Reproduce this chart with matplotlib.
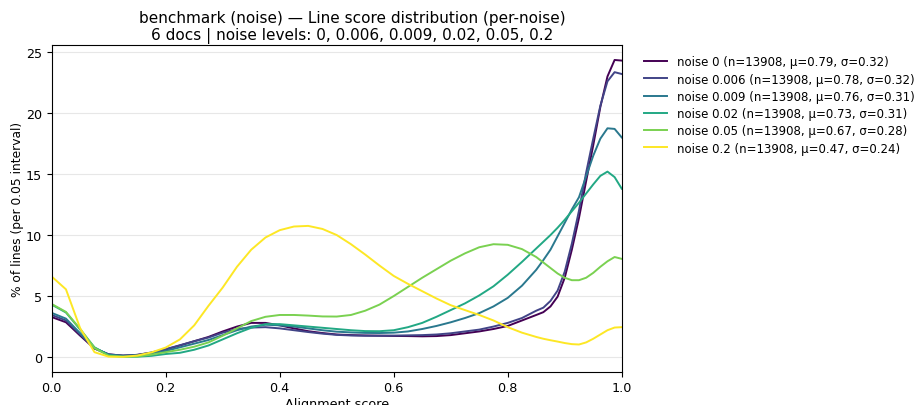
import numpy as np
import matplotlib
matplotlib.use("Agg")
import matplotlib.pyplot as plt

# alignment score grid (finer near 1.0 where the curves are steep)
scores = [0.0, 0.025, 0.05, 0.075, 0.1, 0.125, 0.15, 0.175, 0.2, 0.225,
          0.25, 0.275, 0.3, 0.325, 0.35, 0.375, 0.4, 0.425, 0.45, 0.475,
          0.5, 0.525, 0.55, 0.575, 0.6, 0.625, 0.65, 0.675, 0.7, 0.725,
          0.75, 0.775, 0.8, 0.825, 0.85, 0.8625, 0.875, 0.8875, 0.9, 0.9125,
          0.925, 0.9375, 0.95, 0.9625, 0.975, 0.9875, 1.0]

noise_0 = [3.28, 2.85, 1.75, 0.7, 0.22, 0.12, 0.18, 0.35, 0.62, 0.95,
           1.3, 1.65, 2.1, 2.5, 2.8, 2.8, 2.6, 2.35, 2.12, 1.97,
           1.85, 1.8, 1.77, 1.75, 1.73, 1.72, 1.7, 1.72, 1.8, 1.95,
           2.1, 2.3, 2.55, 3.0, 3.45, 3.68, 4.15, 4.95, 6.5, 8.8,
           11.4, 14.4, 17.35, 20.5, 23.0, 24.35, 24.3]
noise_0006 = [3.45, 3.0, 1.85, 0.72, 0.22, 0.12, 0.18, 0.38, 0.65, 0.97,
              1.3, 1.6, 2.0, 2.3, 2.42, 2.45, 2.35, 2.2, 2.05, 1.92,
              1.82, 1.77, 1.75, 1.75, 1.76, 1.78, 1.8, 1.85, 1.95, 2.1,
              2.25, 2.5, 2.8, 3.2, 3.8, 4.05, 4.6, 5.45, 7.0, 9.3,
              12.0, 15.1, 17.9, 20.6, 22.6, 23.35, 23.2]
noise_0009 = [3.62, 3.15, 1.95, 0.75, 0.2, 0.1, 0.15, 0.3, 0.5, 0.8,
              1.1, 1.4, 1.8, 2.2, 2.5, 2.65, 2.6, 2.5, 2.35, 2.2,
              2.08, 2.02, 1.98, 1.97, 2.0, 2.1, 2.3, 2.55, 2.85, 3.2,
              3.6, 4.15, 4.85, 5.85, 7.15, 7.95, 8.8, 9.9, 11.0, 12.1,
              13.1, 14.8, 16.5, 17.9, 18.75, 18.7, 18.0]
noise_002 = [4.3, 3.65, 2.25, 0.8, 0.15, 0.03, 0.03, 0.1, 0.25, 0.35,
             0.6, 0.95, 1.45, 1.95, 2.4, 2.7, 2.7, 2.6, 2.5, 2.4,
             2.3, 2.2, 2.13, 2.12, 2.2, 2.45, 2.8, 3.3, 3.85, 4.4,
             5.05, 5.8, 6.75, 7.8, 8.9, 9.45, 10.0, 10.6, 11.25, 11.95,
             12.65, 13.4, 14.15, 14.85, 15.2, 14.75, 13.8]
noise_005 = [4.35, 3.7, 2.3, 0.75, 0.1, 0.02, 0.05, 0.2, 0.4, 0.6,
             0.85, 1.2, 1.75, 2.35, 2.95, 3.3, 3.45, 3.45, 3.4, 3.33,
             3.32, 3.45, 3.8, 4.3, 5.0, 5.75, 6.5, 7.2, 7.9, 8.5,
             9.0, 9.25, 9.2, 8.85, 8.2, 7.75, 7.3, 6.85, 6.5, 6.3,
             6.3, 6.5, 6.9, 7.4, 7.85, 8.2, 8.05]
noise_02 = [6.6, 5.55, 2.35, 0.4, 0.03, 0.02, 0.12, 0.38, 0.78, 1.45,
            2.6, 4.2, 5.7, 7.4, 8.8, 9.8, 10.4, 10.7, 10.75, 10.5,
            10.0, 9.25, 8.4, 7.5, 6.65, 6.0, 5.4, 4.8, 4.25, 3.85,
            3.45, 3.0, 2.45, 2.0, 1.65, 1.5, 1.38, 1.27, 1.15, 1.06,
            1.03, 1.2, 1.5, 1.85, 2.2, 2.42, 2.45]

labels = [
    "noise 0 (n=13908, μ=0.79, σ=0.32)",
    "noise 0.006 (n=13908, μ=0.78, σ=0.32)",
    "noise 0.009 (n=13908, μ=0.76, σ=0.31)",
    "noise 0.02 (n=13908, μ=0.73, σ=0.31)",
    "noise 0.05 (n=13908, μ=0.67, σ=0.28)",
    "noise 0.2 (n=13908, μ=0.47, σ=0.24)",
]
series = [noise_0, noise_0006, noise_0009, noise_002, noise_005, noise_02]
colors = plt.cm.viridis(np.linspace(0, 1, len(series)))

plt.rcParams["font.size"] = 9.2

fig = plt.figure(figsize=(9.17, 4.06), dpi=100)
ax = fig.add_axes([0.0564, 0.082, 0.6216, 0.8054])

for ys, lab, c in zip(series, labels, colors):
    ax.plot(scores, ys, color=c, linewidth=1.4, label=lab)

ax.set_xlim(0, 1)
ax.set_ylim(-1.2, 25.6)
ax.grid(axis="y", alpha=0.3)
ax.set_xlabel("Alignment score", labelpad=2)
ax.set_ylabel("% of lines (per 0.05 interval)", fontsize=8.8, labelpad=1)
ax.set_title("benchmark (noise) — Line score distribution (per-noise)\n"
             "6 docs | noise levels: 0, 0.006, 0.009, 0.02, 0.05, 0.2",
             fontsize=11, x=0.527, pad=4)
ax.legend(loc="upper left", bbox_to_anchor=(1.02, 1.0), frameon=False,
          fontsize=8.5, labelspacing=0.36)

fig.savefig("out.png", dpi=100)
